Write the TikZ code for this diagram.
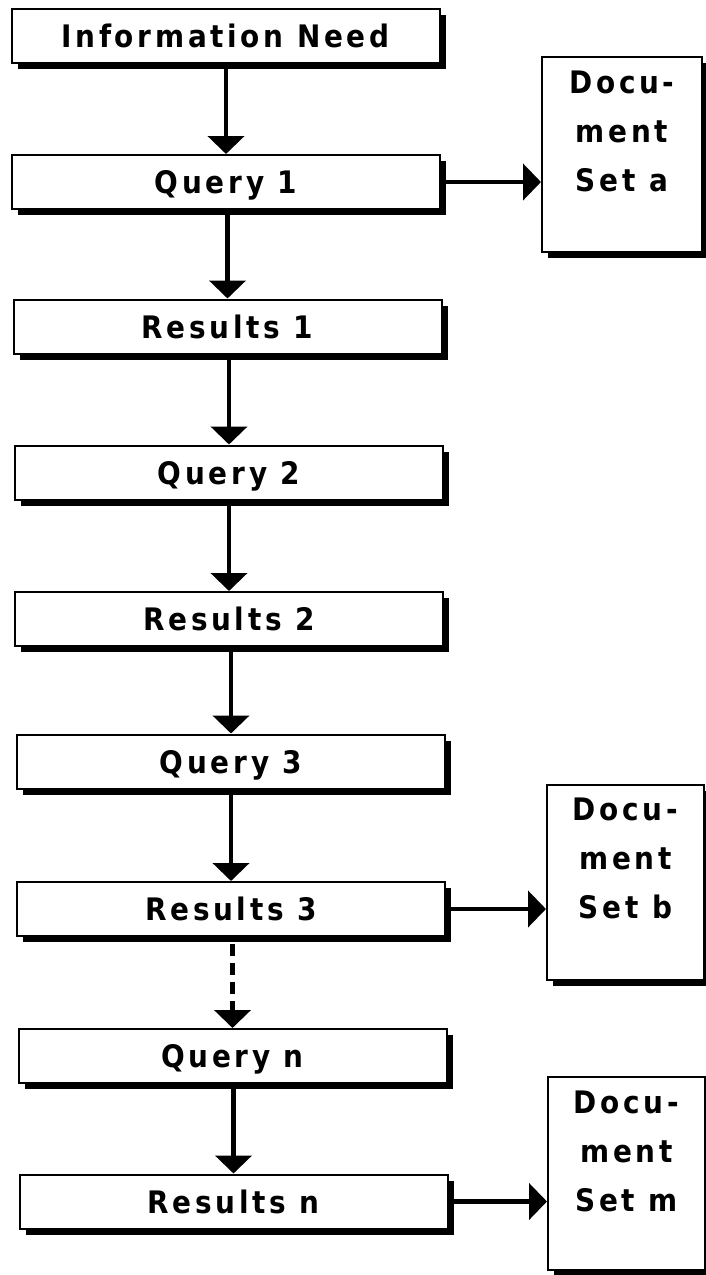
\documentclass[tikz,border=0pt]{standalone}
\usepackage{fontspec}
\newfontfamily\boxfont{DejaVu Sans Condensed}[LetterSpace=12]
\usetikzlibrary{arrows.meta,shadows}
\begin{document}
\begin{tikzpicture}[x=1pt,y=-1pt,
  boxshape/.style={draw=black, line width=2pt, fill=white, rectangle, inner sep=0pt,
    drop shadow={shadow xshift=6pt, shadow yshift=-6pt, fill=black, opacity=1}},
  mainbox/.style={boxshape, minimum width=428pt, minimum height=54pt,
    font=\boxfont\bfseries\fontsize{31}{37}\selectfont, text height=23pt, text depth=0pt},
  docbox/.style={boxshape, minimum width=158pt, minimum height=195pt},
  doctext/.style={font=\boxfont\bfseries\fontsize{31}{49}\selectfont, align=center,
    inner sep=0pt, anchor=north},
  arr/.style={line width=4.5pt, -{Triangle[length=18pt,width=36pt]}},
  dasharr/.style={arr, dash pattern=on 12pt off 7pt}
]
\fill[white] (0,0) rectangle (706,1275);
\useasboundingbox (0,0) rectangle (706,1275);

\node[mainbox] (need) at (225.5,36)   {Information Need};
\node[mainbox] (q1)   at (226,182)    {Query 1};
\node[mainbox] (r1)   at (227.5,326.5){Results 1};
\node[mainbox] (q2)   at (229,472.5)  {Query 2};
\node[mainbox] (r2)   at (229,619)    {Results 2};
\node[mainbox] (q3)   at (231,761.5)  {Query 3};
\node[mainbox] (r3)   at (231,909)    {Results 3};
\node[mainbox] (qn)   at (232.5,1056) {Query n};
\node[mainbox] (rn)   at (233.5,1201.5){Results n};

\node[docbox, minimum width=160pt] (da) at (622,154.5) {};
\node[docbox, minimum width=157pt] (db) at (625.5,882.5) {};
\node[docbox, minimum width=157pt, minimum height=193pt] (dm) at (626.5,1173.5) {};

\node[doctext] (tda) at ([yshift=-15pt]da.north) {Docu-\\ment\\Set a};
\node[doctext] (tdb) at ([yshift=-14pt]db.north) {Docu-\\ment\\Set b};
\node[doctext] (tdm) at ([yshift=-15pt]dm.north) {Docu-\\ment\\Set m};

\draw[arr] (q1.north |- need.south) -- (q1.north);
\draw[arr] (r1.north |- q1.south) -- (r1.north);
\draw[arr] (q2.north |- r1.south) -- (q2.north);
\draw[arr] (r2.north |- q2.south) -- (r2.north);
\draw[arr] (q3.north |- r2.south) -- (q3.north);
\draw[arr] (r3.north |- q3.south) -- (r3.north);
\draw[dasharr] ([yshift=-7pt]qn.north |- r3.south) -- (qn.north);
\draw[arr] (rn.north |- qn.south) -- (rn.north);

\draw[arr] (q1.east) -- (q1.east -| da.west);
\draw[arr] (r3.east) -- (r3.east -| db.west);
\draw[arr] (rn.east) -- (rn.east -| dm.west);
\end{tikzpicture}
\end{document}
